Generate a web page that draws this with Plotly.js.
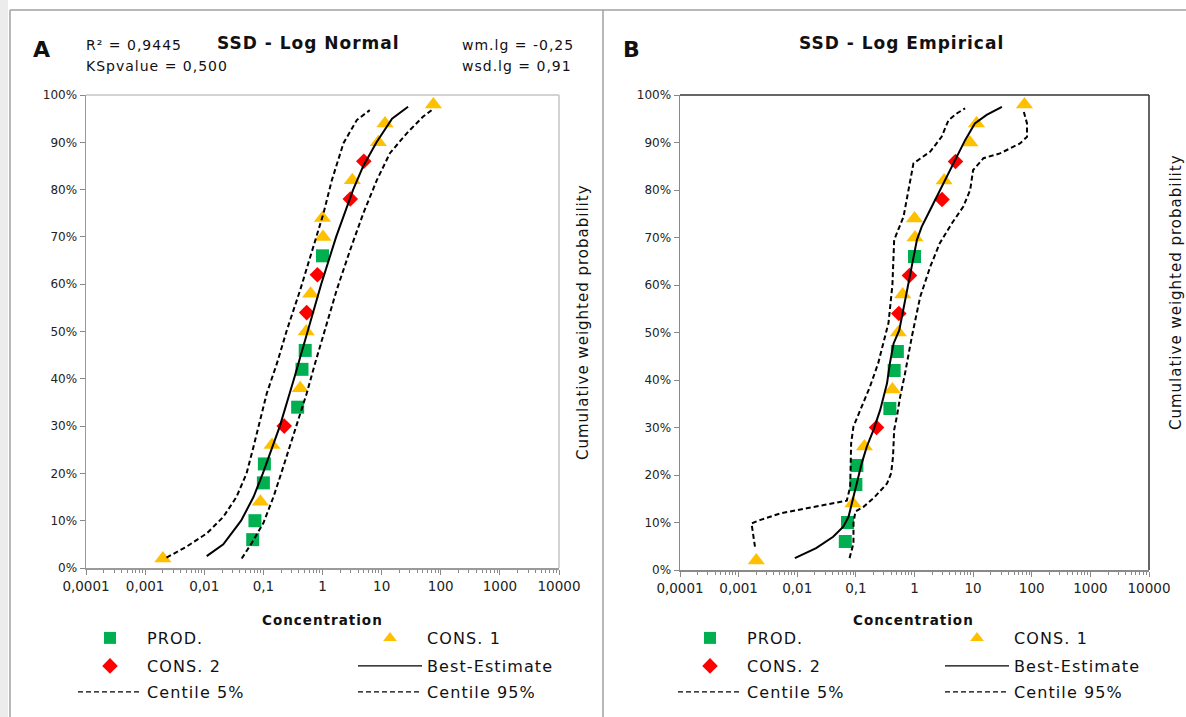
<!DOCTYPE html>
<html>
<head>
<meta charset="utf-8">
<script src="https://cdn.plot.ly/plotly-3.0.1.min.js"></script>
<style>
  html, body { margin: 0; padding: 0; background: #ffffff; }
  #chart { width: 1186px; height: 717px; }
  text.annotation-text { letter-spacing: 1px; }
  text.legendtext, .infolayer g[class^="legend"] text { letter-spacing: 1.1px; }
  .infolayer g.scrollbox, .infolayer g[class^="legend"] g { clip-path: none !important; }
  .legendlines path { stroke-width: 1.4px !important; }
</style>
</head>
<body>
<div id="chart"></div>
<script>
// ---------------- data ----------------
var xTickVals = [0.0001, 0.001, 0.01, 0.1, 1, 10, 100, 1000, 10000];
var xTickText = ['0,0001', '0,001', '0,01', '0,1', '1', '10', '100', '1000', '10000'];
var yTickVals = [0, 10, 20, 30, 40, 50, 60, 70, 80, 90, 100];
var yTickText = ['0%', '10%', '20%', '30%', '40%', '50%', '60%', '70%', '80%', '90%', '100%'];

var prodX = [0.066, 0.072, 0.1, 0.104, 0.38, 0.45, 0.51, 1.0];
var prodY = [6, 10, 18, 22, 34, 42, 46, 66];
var cons1X = [0.002, 0.089, 0.14, 0.42, 0.53, 0.63, 1.02, 1.0, 3.2, 8.8, 11.4, 75];
var cons1Y = [2, 14, 26, 38, 50, 58, 70, 74, 82, 90, 94, 98];
var cons2X = [0.225, 0.54, 0.82, 2.95, 5.0];
var cons2Y = [30, 54, 62, 78, 86];

// Panel A – Log Normal curves
var bestA_x = [0.011, 0.021, 0.042, 0.068, 0.098, 0.19, 0.33, 0.56, 0.95, 1.7, 3.3, 4.9, 8.2, 15, 28];
var bestA_y = [2.5, 5, 10, 15, 20, 30, 40, 50, 60, 70, 80, 85, 90, 95, 97.5];
var c5A_x = [0.0023, 0.005, 0.011, 0.021, 0.035, 0.052, 0.068, 0.087, 0.114, 0.17, 0.25, 0.42, 0.70, 1.04, 1.44, 2.26, 3.8, 6.3];
var c5A_y = [2.2, 4.5, 7.3, 10.8, 15, 20, 25.6, 31.3, 36.9, 43.3, 50.3, 58.8, 67.9, 75, 82, 89.8, 94.7, 96.8];
var c95A_x = [0.043, 0.063, 0.1, 0.148, 0.2, 0.28, 0.39, 0.54, 0.75, 1.06, 1.74, 2.93, 4.9, 8.3, 13.8, 26.6, 50, 70];
var c95A_y = [2.0, 5.2, 9.5, 15, 20, 25.6, 31.3, 36.9, 43.3, 49.5, 58.8, 67.2, 75, 82, 87.7, 91.9, 95.4, 96.8];

// Panel B – Log Empirical curves
var bestB_x = [0.0091, 0.021, 0.041, 0.061, 0.075, 0.085, 0.1035, 0.126, 0.154, 0.2, 0.26, 0.34, 0.38, 0.44, 0.55, 0.7, 0.92, 1.1, 1.33, 1.73, 2.25, 2.92, 3.8, 5.25, 7.3, 10.7, 17, 31];
var bestB_y = [2.5, 4.6, 7, 9.1, 11.2, 14, 18.2, 22.5, 26, 29.5, 33.7, 39.3, 43.5, 47.7, 50.5, 57.5, 64.6, 69.5, 72.3, 75.1, 77.9, 80.7, 83.5, 87, 90.5, 94, 95.8, 97.5];
var c5B_x = [0.0019, 0.00166, 0.0023, 0.0051, 0.0145, 0.036, 0.07, 0.08, 0.081, 0.083, 0.091, 0.118, 0.174, 0.24, 0.295, 0.36, 0.42, 0.45, 0.65, 0.79, 0.9, 0.96, 1.86, 2.9, 3.8, 5.25, 7.3];
var c5B_y = [4.9, 9.8, 10.5, 11.9, 13, 14, 14.6, 17.5, 22.5, 26.7, 30.2, 33.7, 38.6, 43.5, 47.7, 52, 60, 69.5, 74.4, 80, 84.2, 85.6, 88.1, 91.2, 94.7, 96.1, 97.2];
var c95B_x = [0.078, 0.091, 0.091, 0.098, 0.135, 0.21, 0.34, 0.4, 0.43, 0.45, 0.5, 0.57, 0.69, 0.79, 0.9, 1.25, 1.86, 2.7, 4.35, 6.8, 8.9, 10, 15, 28.7, 63, 83, 83, 72];
var c95B_y = [2.5, 5.6, 9.8, 12.3, 13.3, 15.4, 18.2, 20.4, 23.8, 29.5, 32.3, 36.5, 41.4, 45.6, 49.1, 57.5, 63.9, 68.8, 73, 76.5, 80, 84.2, 86.7, 87.7, 89.8, 91.2, 94, 96.8];

var seriesNames = ['PROD.', 'CONS. 1', 'CONS. 2', 'Best-Estimate', 'Centile 5%', 'Centile 95%'];

// ---------------- layout helpers ----------------
var W = 1186, H = 717;
function px(x) { return x / W; }
function py(y) { return 1 - y / H; }
var FONT = 'DejaVu Sans, Liberation Sans, Arial, sans-serif';
var GREEN = '#00b050', ORANGE = '#ffc000', RED = '#ff0000';

var minorVals = [];
for (var e = -4; e < 4; e++) {
  for (var m = 2; m <= 9; m++) minorVals.push(m * Math.pow(10, e));
}

function xAxis(d0, d1, anchor, lineColor) {
  return {
    domain: [px(d0), px(d1)], anchor: anchor, type: 'log', range: [-4, 4],
    tickvals: xTickVals, ticktext: xTickText, tickmode: 'array',
    ticks: 'outside', ticklen: 5, tickwidth: 1, tickcolor: '#888',
    showline: true, linecolor: lineColor, linewidth: 1.5,
    showgrid: false, zeroline: false,
    tickfont: { family: FONT, size: 13.5, color: '#222' },
    minor: { tickvals: minorVals, ticks: 'outside', ticklen: 3, tickcolor: '#888', showgrid: false }
  };
}
function yAxis(t, b, anchor, lineColor) {
  return {
    domain: [py(b), py(t)], anchor: anchor, range: [0, 100],
    tickvals: yTickVals, ticktext: yTickText, tickmode: 'array',
    ticks: 'outside', ticklen: 5, tickwidth: 1, tickcolor: '#888',
    showline: true, linecolor: lineColor, linewidth: 1.5,
    showgrid: false, zeroline: false,
    tickfont: { family: FONT, size: 12, color: '#222' }
  };
}

function panelTraces(xa, ya, bx, by, l5x, l5y, l95x, l95y, legIds) {
  return [
    { x: prodX, y: prodY, xaxis: xa, yaxis: ya, mode: 'markers', name: seriesNames[0], legend: legIds[0],
      marker: { symbol: 'square', size: 13, color: GREEN } },
    { x: cons1X, y: cons1Y, xaxis: xa, yaxis: ya, mode: 'markers', name: seriesNames[1], legend: legIds[1],
      marker: { symbol: 'triangle-up', size: 15, color: ORANGE } },
    { x: cons2X, y: cons2Y, xaxis: xa, yaxis: ya, mode: 'markers', name: seriesNames[2], legend: legIds[2],
      marker: { symbol: 'diamond', size: 12, color: RED } },
    { x: bx, y: by, xaxis: xa, yaxis: ya, mode: 'lines', name: seriesNames[3], legend: legIds[3],
      line: { color: '#000', width: 2 } },
    { x: l5x, y: l5y, xaxis: xa, yaxis: ya, mode: 'lines', name: seriesNames[4], legend: legIds[4],
      line: { color: '#000', width: 2, dash: '5px,3px' } },
    { x: l95x, y: l95y, xaxis: xa, yaxis: ya, mode: 'lines', name: seriesNames[5], legend: legIds[5],
      line: { color: '#000', width: 2, dash: '5px,3px' } }
  ];
}

var legA = ['legend', 'legend2', 'legend3', 'legend4', 'legend5', 'legend6'];
var legB = ['legend7', 'legend8', 'legend9', 'legend10', 'legend11', 'legend12'];

var traces = []
  .concat(panelTraces('x', 'y', bestA_x, bestA_y, c5A_x, c5A_y, c95A_x, c95A_y, legA))
  .concat(panelTraces('x2', 'y2', bestB_x, bestB_y, c5B_x, c5B_y, c95B_x, c95B_y, legB));

var rows = [638, 666, 692];
function legendCells(col1, col2) {
  return [[col1, rows[0]], [col2, rows[0]], [col1, rows[1]], [col2, rows[1]], [col1, rows[2]], [col2, rows[2]]];
}
var cellsA = legendCells(73, 353);
var cellsB = legendCells(673, 940);

function ann(text, x, y, xanchor, size, extra) {
  var a = { text: text, x: px(x), y: py(y), xref: 'paper', yref: 'paper', xanchor: xanchor, yanchor: 'middle',
            showarrow: false, font: { family: FONT, size: size, color: '#111' } };
  for (var k in (extra || {})) a[k] = extra[k];
  return a;
}

var layout = {
  width: W, height: H,
  margin: { l: 0, r: 0, t: 0, b: 0 },
  showlegend: true,
  paper_bgcolor: '#ffffff', plot_bgcolor: '#ffffff',
  font: { family: FONT, size: 12, color: '#222' },
  xaxis: xAxis(86, 559, 'y', '#9a9a9a'),
  yaxis: yAxis(95, 568, 'x', '#9a9a9a'),
  xaxis2: xAxis(680, 1149, 'y2', '#8a8a8a'),
  yaxis2: yAxis(95, 570, 'x2', '#8a8a8a'),
  shapes: [
    { type: 'rect', xref: 'paper', yref: 'paper', x0: 0, x1: px(8), y0: 0, y1: 1, fillcolor: '#ececec', line: { width: 0 } },
    { type: 'line', xref: 'paper', yref: 'paper', x0: px(10), x1: px(10), y0: 0, y1: py(10), line: { color: '#a0a0a0', width: 1.5 } },
    { type: 'line', xref: 'paper', yref: 'paper', x0: px(10), x1: 1, y0: py(10), y1: py(10), line: { color: '#a0a0a0', width: 1.5 } },
    { type: 'line', xref: 'paper', yref: 'paper', x0: px(603), x1: px(603), y0: 0, y1: py(10), line: { color: '#a0a0a0', width: 1.5 } },
    { type: 'line', xref: 'x domain', yref: 'y domain', x0: 0, x1: 1, y0: 1, y1: 1, line: { color: '#c4c4c4', width: 1.5 } },
    { type: 'line', xref: 'x domain', yref: 'y domain', x0: 1, x1: 1, y0: 0, y1: 1, line: { color: '#c4c4c4', width: 1.5 } },
    { type: 'line', xref: 'x2 domain', yref: 'y2 domain', x0: 0, x1: 1, y0: 1, y1: 1, line: { color: '#333', width: 1.5 } },
    { type: 'line', xref: 'x2 domain', yref: 'y2 domain', x0: 1, x1: 1, y0: 0, y1: 1, line: { color: '#333', width: 1.5 } }
  ],
  annotations: [
    ann('<b>A</b>', 42, 50, 'center', 22),
    ann('R² = 0,9445', 84, 45, 'left', 14),
    ann('KSpvalue = 0,500', 84, 66, 'left', 14),
    ann('<b>SSD - Log Normal</b>', 308, 43, 'center', 17),
    ann('wm.lg = -0,25', 460, 45, 'left', 14),
    ann('wsd.lg = 0,91', 460, 66, 'left', 14),
    ann('<b>B</b>', 632, 50, 'center', 22),
    ann('<b>SSD - Log Empirical</b>', 901, 43, 'center', 17),
    ann('<b>Concentration</b>', 322, 620, 'center', 13.5),
    ann('<b>Concentration</b>', 913, 620, 'center', 13.5),
    ann('Cumulative weighted probability', 583, 322, 'center', 15, { textangle: -90 }),
    ann('Cumulative weighted probability', 1176, 292, 'center', 15, { textangle: -90 })
  ]
};

function addLegends(ids, cells) {
  ids.forEach(function (id, i) {
    layout[id] = {
      x: px(cells[i][0]), y: py(cells[i][1]), xanchor: 'left', yanchor: 'middle',
      xref: 'paper', yref: 'paper',
      bgcolor: 'rgba(0,0,0,0)', borderwidth: 0,
      itemwidth: 64, itemsizing: 'constant', itemclick: false, itemdoubleclick: false,
      font: { family: FONT, size: 16, color: '#111' }
    };
  });
}
addLegends(legA, cellsA);
addLegends(legB, cellsB);

Plotly.newPlot('chart', traces, layout, { displayModeBar: false, staticPlot: true });
</script>
</body>
</html>
